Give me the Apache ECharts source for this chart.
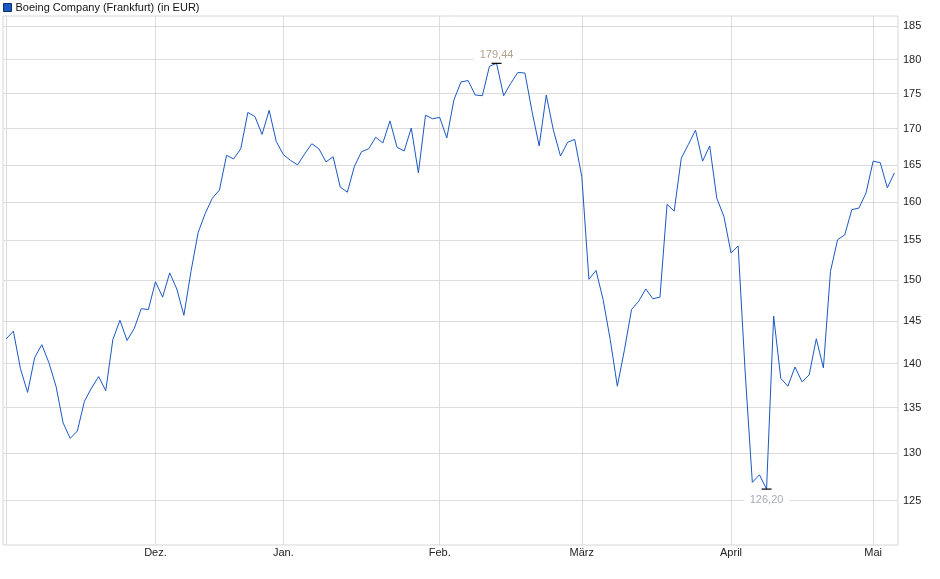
<!DOCTYPE html>
<html>
<head>
<meta charset="utf-8">
<script src="https://cdn.jsdelivr.net/npm/echarts@6/dist/echarts.min.js"></script>
<style>html,body{margin:0;padding:0;background:#fff}#c{width:940px;height:579px}</style>
</head>
<body>
<div id="c"></div>
<script>
// Daily closes, one per trading day (Nov 2024 – early May 2025)
const prices = [
  142.9, 143.8, 139.4, 136.7, 140.7, 142.2, 140.1, 137.4, 133.3, 131.6,
  132.4, 135.7, 137.2, 138.5, 136.9, 142.8, 145.1, 142.7, 144.1, 146.5,
  146.4, 149.8, 147.9, 150.9, 148.9, 145.7, 151.1, 156.0, 158.5, 160.5,
  161.6, 166.3, 165.8, 167.2, 172.3, 171.7, 169.2, 172.6, 168.2, 166.4,
  165.6, 165.0, 166.5, 167.9, 167.2, 165.4, 166.1, 162.0, 161.3, 164.8,
  166.8, 167.2, 168.8, 168.0, 171.1, 167.4, 166.9, 170.1, 163.9, 171.9,
  171.4, 171.6, 168.7, 174.1, 176.7, 176.9, 174.8, 174.7, 179.0, 179.44,
  174.7, 176.5, 178.1, 178.0, 172.4, 167.6, 174.8, 169.8, 166.2, 168.1,
  168.5, 163.4, 150.1, 151.2, 147.6, 142.8, 137.4, 141.6, 146.4, 147.4,
  148.9, 147.7, 147.9, 159.7, 158.8, 165.9, 167.8, 169.8, 165.5, 167.6,
  160.5, 158.1, 153.4, 154.3, 138.9, 126.9, 127.7, 126.2, 145.6, 138.3,
  137.4, 139.6, 137.9, 138.7, 142.9, 139.5, 151.1, 155.1, 155.7, 159.0,
  159.2, 161.2, 165.5, 165.3, 161.9, 163.9
];
// index of first trading day of each month
const monthTickIdx = [0, 21, 39, 61, 81, 102, 122];
const monthLabels = ['', 'Dez.', 'Jan.', 'Feb.', 'März', 'April', 'Mai'];
const yTicks = [125, 130, 135, 140, 145, 150, 155, 160, 165, 170, 175, 180, 185];
const seriesName = 'Boeing Company (Frankfurt) (in EUR)';

const chart = echarts.init(document.getElementById('c'), null, {renderer: 'canvas'});
const fmt = v => Number(v).toFixed(2).replace('.', ',');
const font = 'Liberation Sans, Arial, sans-serif';

chart.setOption({
  animation: false,
  backgroundColor: '#fff',
  textStyle: {fontFamily: font},
  legend: {
    left: 3, top: 2, padding: 0,
    icon: 'rect', itemWidth: 8, itemHeight: 8, itemGap: 10,
    textStyle: {fontSize: 11, color: '#111', fontFamily: font, padding: [0, 0, 0, -1]},
    itemStyle: {borderColor: '#0e2f6e', borderWidth: 1},
    data: [seriesName]
  },
  grid: {
    left: 3, right: 42, top: 16, bottom: 34,
    show: true, borderColor: '#d6d6d6', borderWidth: 1,
    containLabel: false
  },
  xAxis: {
    type: 'value',
    min: -0.46, max: 125.5,
    axisLine: {show: false},
    axisTick: {show: false, customValues: monthTickIdx},
    axisLabel: {
      customValues: monthTickIdx,
      formatter: v => monthLabels[monthTickIdx.indexOf(Math.round(v))] || '',
      fontSize: 11, color: '#222', margin: 2, fontFamily: font
    },
    splitLine: {show: true, lineStyle: {color: '#dcdcdc', width: 1}}
  },
  yAxis: {
    type: 'log',
    position: 'right',
    min: 120.5, max: 186.6,
    axisLine: {show: false},
    axisTick: {show: false, customValues: yTicks},
    axisLabel: {
      customValues: yTicks,
      formatter: v => String(Math.round(v)),
      fontSize: 11, color: '#222', margin: 5, fontFamily: font
    },
    splitLine: {show: true, lineStyle: {color: '#dcdcdc', width: 1}}
  },
  series: [{
    name: seriesName,
    type: 'line',
    data: prices.map((v, i) => [i, v]),
    showSymbol: false,
    symbol: 'none',
    lineStyle: {color: '#1b58c4', width: 1},
    itemStyle: {color: '#1b58c4'},
    emphasis: {disabled: true},
    markPoint: {
      symbol: 'rect',
      symbolSize: [10, 1.2],
      itemStyle: {color: '#000'},
      silent: true,
      data: [
        {type: 'max', label: {position: 'top', distance: 1, color: '#b3a48d'}},
        {type: 'min', label: {position: 'bottom', distance: 4, color: '#a9acb8'}}
      ],
      label: {
        show: true, fontSize: 11, fontFamily: font,
        backgroundColor: '#fff', padding: [1, 6],
        formatter: p => fmt(p.value)
      }
    }
  }]
});
</script>
</body>
</html>
